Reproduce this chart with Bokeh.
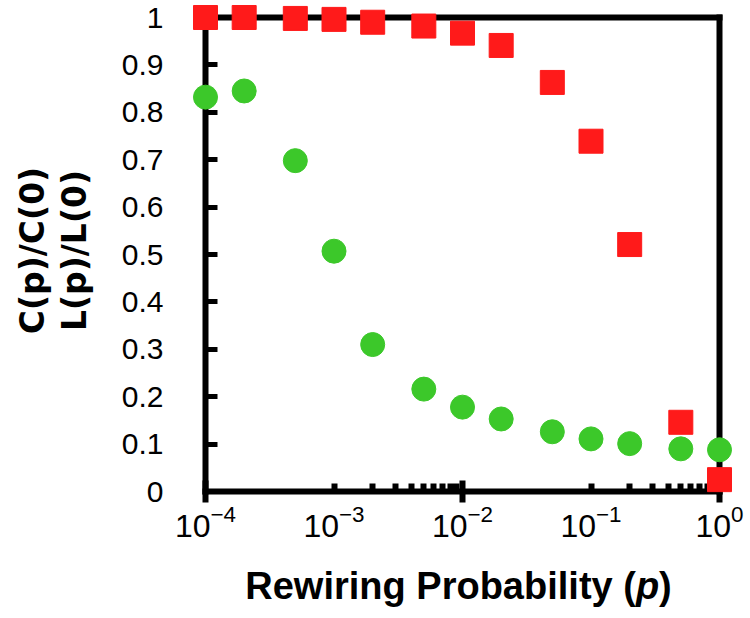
import math
from bokeh.plotting import figure
from bokeh.models import (Range1d, FixedTicker, LogAxis, LinearAxis,
                          LogTickFormatter, Label)
from bokeh.embed import file_html
from bokeh.resources import INLINE

# ---- data ----
p_values = [1e-4, 2e-4, 5e-4, 1e-3, 2e-3, 5e-3, 1e-2, 2e-2, 5e-2, 1e-1, 2e-1, 5e-1, 1.0]
c_ratio = [1.0, 1.0, 0.998, 0.996, 0.99, 0.982, 0.967, 0.941, 0.863, 0.739, 0.521, 0.146, 0.025]
l_ratio = [0.832, 0.845, 0.698, 0.507, 0.31, 0.216, 0.178, 0.153, 0.126, 0.111, 0.101, 0.09, 0.088]

x_major = [1e-4, 1e-2, 1.0]
x_minor = [1e-3, 2e-3, 3e-3, 4e-3, 5e-3, 6e-3, 7e-3, 8e-3, 9e-3,
           1e-1, 2e-1, 3e-1, 4e-1, 5e-1, 6e-1, 7e-1, 8e-1, 9e-1]
x_labels_at = [1e-4, 1e-3, 1e-2, 1e-1, 1.0]
y_ticks = [0, 0.1, 0.2, 0.3, 0.4, 0.5, 0.6, 0.7, 0.8, 0.9, 1.0]
y_tick_labels = ["0", "0.1", "0.2", "0.3", "0.4", "0.5", "0.6", "0.7", "0.8", "0.9", "1"]
x_min, x_max = 1e-4, 1.0
y_min, y_max = 0.0, 1.0

x_title_main = "Rewiring Probability ("
x_title_var = "p"
x_title_end = ")"
y_title = "C(p)/C(0)\nL(p)/L(0)"

# ---- layout (pixels) ----
W, H = 750, 618
BOX_L, BOX_R = 205, 719      # data box left / right (canvas px)
BOX_T, BOX_B = 17, 491       # data box top / bottom (canvas px)
FONT = "Liberation Sans"

dec = (BOX_R - BOX_L) / (math.log10(x_max) - math.log10(x_min))
x_start = 10 ** (math.log10(x_min) - BOX_L / dec)
x_end = 10 ** (math.log10(x_max) + (W - BOX_R) / dec)
unit = (BOX_B - BOX_T) / (y_max - y_min)
y_start = y_min - (H - BOX_B) / unit
y_end = y_max + BOX_T / unit

p = figure(width=W, height=H, x_axis_type="log",
           x_range=Range1d(x_start, x_end), y_range=Range1d(y_start, y_end),
           output_backend="svg", toolbar_location=None, min_border=0)
p.min_border_left = p.min_border_right = p.min_border_top = p.min_border_bottom = 0
p.grid.visible = False
p.outline_line_color = None
p.background_fill_color = "white"
p.border_fill_color = "white"

LW = 6

# bottom axis: line + tick marks
ax = p.xaxis[0]
ax.fixed_location = y_min
ax.bounds = (x_min, x_max)
ax.ticker = FixedTicker(ticks=x_major, minor_ticks=x_minor)
ax.axis_line_width = LW
ax.axis_line_cap = "square"
ax.axis_line_color = "black"
ax.major_tick_in = 11
ax.major_tick_out = 11
ax.major_tick_line_width = LW
ax.minor_tick_in = 8
ax.minor_tick_out = 0
ax.minor_tick_line_width = LW
ax.major_label_text_font_size = "1px"
ax.major_label_text_alpha = 0

# bottom axis: decade labels
ax2 = LogAxis(ticker=FixedTicker(ticks=x_labels_at), formatter=LogTickFormatter(),
              fixed_location=y_min, bounds=(x_min, x_max))
ax2.axis_line_color = None
ax2.major_tick_line_color = None
ax2.minor_tick_line_color = None
ax2.major_tick_in = 0
ax2.major_tick_out = 0
ax2.major_label_standoff = 13
ax2.major_label_text_font = FONT
ax2.major_label_text_font_size = "32px"
ax2.major_label_text_color = "black"
p.add_layout(ax2, "below")

# left axis
ay = p.yaxis[0]
ay.fixed_location = x_min
ay.bounds = (y_min, y_max)
ay.ticker = FixedTicker(ticks=y_ticks)
ay.major_label_overrides = {t: s for t, s in zip(y_ticks, y_tick_labels)}
ay.axis_line_width = LW
ay.axis_line_cap = "square"
ay.axis_line_color = "black"
ay.major_tick_in = 12
ay.major_tick_out = 0
ay.major_tick_line_width = 5
ay.minor_tick_line_color = None
ay.major_label_standoff = 42
ay.major_label_text_font = FONT
ay.major_label_text_font_size = "30px"
ay.major_label_text_color = "black"

# top and right frame lines
top = LogAxis(fixed_location=y_max, bounds=(x_min, x_max), ticker=FixedTicker(ticks=[]))
right = LinearAxis(fixed_location=x_max, bounds=(y_min, y_max), ticker=FixedTicker(ticks=[]))
for a in (top, right):
    a.axis_line_width = LW
    a.axis_line_cap = "square"
    a.axis_line_color = "black"
    a.major_tick_line_color = None
    a.minor_tick_line_color = None
    a.major_label_text_font_size = "1px"
    a.major_label_text_alpha = 0
p.add_layout(top, "below")
p.add_layout(right, "left")

# data
r1 = p.scatter(p_values, l_ratio, marker="circle", size=24,
               fill_color="#3CC82A", line_color="#3CC82A")
r2 = p.scatter(p_values, c_ratio, marker="square", size=24,
               fill_color="#FF1A1A", line_color="#FF1A1A")
r1.level = "overlay"
r2.level = "overlay"

# x title with italic variable
TFS = 38
w_main = 10.28 * TFS
w_var = 0.611 * TFS
w_end = 0.333 * TFS
cx = 458
x0 = cx - (w_main + w_var + w_end) / 2
mid_y = H - 585
common = dict(x_units="screen", y_units="screen", text_font=FONT,
              text_font_size=f"{TFS}px", text_color="black",
              text_baseline="middle")
p.add_layout(Label(x=x0 + w_main, y=mid_y, text=x_title_main, text_align="right",
                   text_font_style="bold", **common))
p.add_layout(Label(x=x0 + w_main, y=mid_y, text=x_title_var, text_align="left",
                   text_font_style="bold italic", **common))
p.add_layout(Label(x=x0 + w_main + w_var, y=mid_y, text=x_title_end, text_align="left",
                   text_font_style="bold", **common))

# y title (two lines, rotated)
p.add_layout(Label(x=53, y=H - 250, x_units="screen", y_units="screen",
                   text=y_title, angle=math.pi / 2, text_align="center",
                   text_baseline="middle", text_font="DejaVu Sans", text_font_style="bold",
                   text_font_size="33px", text_line_height=1.1, text_color="black"))

open("out.html", "w").write(file_html(p, INLINE))
